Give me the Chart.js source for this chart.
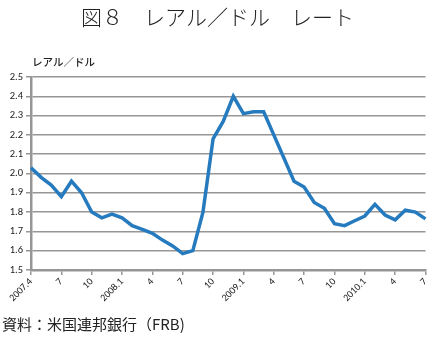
<!DOCTYPE html>
<html>
<head>
<meta charset="utf-8">
<script src="https://cdn.jsdelivr.net/npm/chart.js@4"></script>
<style>
  body { margin: 0; background: #fff; }
  #wrap { position: absolute; left: 0; top: 0; width: 435px; height: 337px; }
  .txt { position: absolute; font-family: "Noto Sans CJK JP", sans-serif; color: #222; white-space: nowrap; }
  #title { left: 0; width: 435px; top: 2px; text-align: center; font-size: 21px; line-height: 28px; font-weight: 300; }
  #ytitle { left: 32px; top: 54px; font-size: 10.5px; line-height: 16px; font-weight: 500; }
  #source { left: 2px; top: 313px; font-size: 15px; line-height: 22px; }
</style>
</head>
<body>
<div id="wrap"><canvas id="myChart"></canvas></div>
<div class="txt" id="title">図８　レアル／ドル　レート</div>
<div class="txt" id="ytitle">レアル／ドル</div>
<div class="txt" id="source">資料：米国連邦銀行（FRB)</div>
<script>
// data
const months = [
  '2007.4','2007.5','2007.6','2007.7','2007.8','2007.9','2007.10','2007.11','2007.12',
  '2008.1','2008.2','2008.3','2008.4','2008.5','2008.6','2008.7','2008.8','2008.9','2008.10','2008.11','2008.12',
  '2009.1','2009.2','2009.3','2009.4','2009.5','2009.6','2009.7','2009.8','2009.9','2009.10','2009.11','2009.12',
  '2010.1','2010.2','2010.3','2010.4','2010.5','2010.6','2010.7'
];
const rate = [
  2.03, 1.98, 1.94, 1.88, 1.96, 1.90, 1.80, 1.77, 1.79,
  1.77, 1.73, 1.71, 1.69, 1.655, 1.625, 1.585, 1.60, 1.80, 2.18, 2.27, 2.40,
  2.31, 2.32, 2.32, 2.20, 2.08, 1.96, 1.93, 1.85, 1.82, 1.74, 1.73, 1.755,
  1.78, 1.84, 1.785, 1.76, 1.81, 1.80, 1.765
];
const tickLabels = ['2007.4','7','10','2008.1','4','7','10','2009.1','4','7','10','2010.1','4','7'];

const gridGray = 'rgb(150,150,150)';

// config
const config = {
  type: 'line',
  data: {
    labels: months,
    datasets: [{
      data: rate,
      borderColor: 'rgb(38,122,190)',
      borderWidth: 3.5,
      pointRadius: 0,
      tension: 0,
      fill: false
    }]
  },
  options: {
    responsive: true,
    maintainAspectRatio: false,
    animation: false,
    layout: { padding: { top: 77, left: 0, right: 6, bottom: 27 } },
    plugins: { legend: { display: false }, tooltip: { enabled: false } },
    scales: {
      x: {
        offset: false,
        border: { color: gridGray, width: 2.5 },
        grid: {
          drawOnChartArea: false,
          tickLength: 5,
          lineWidth: 1.5,
          color: (ctx) => (ctx.index % 3 === 0 ? gridGray : 'transparent')
        },
        ticks: {
          autoSkip: false,
          maxRotation: 45,
          minRotation: 45,
          padding: 1,
          color: '#222',
          font: { family: 'Carlito, "Liberation Sans", sans-serif', size: 10 },
          callback: (val, i) => (i % 3 === 0 ? tickLabels[i / 3] : '')
        },
        afterFit: (scale) => { scale.height = 40; }
      },
      y: {
        min: 1.5,
        max: 2.5,
        border: { color: gridGray, width: 2.5 },
        grid: { color: gridGray, lineWidth: 1.5, tickLength: 5 },
        ticks: {
          stepSize: 0.1,
          padding: 3,
          color: '#222',
          font: { family: 'Carlito, "Liberation Sans", sans-serif', size: 10.5 },
          callback: (v) => v.toFixed(1)
        },
        afterFit: (scale) => { scale.width = 31; }
      }
    }
  }
};

const myChart = new Chart(document.getElementById('myChart'), config);
</script>
</body>
</html>
